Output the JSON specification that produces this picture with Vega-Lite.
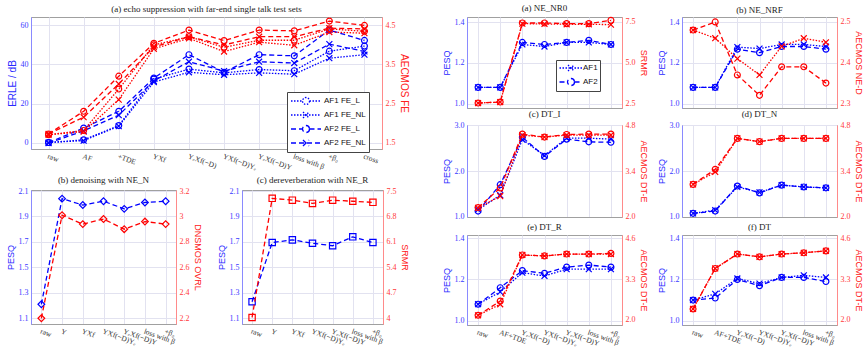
{
  "$schema": "https://vega.github.io/schema/vega-lite/v6.json",
  "padding": {"left": 5, "top": 3, "right": 0, "bottom": 0},
  "datasets": {
    "a": [
      {"s": "AF1 FE_L", "x": "raw", "erle": 0, "fe": 1.7},
      {"s": "AF1 FE_L", "x": "AF", "erle": 1.4, "fe": 1.81},
      {"s": "AF1 FE_L", "x": "+TDE", "erle": 8.7, "fe": 2.87},
      {"s": "AF1 FE_L", "x": "YXf", "erle": 32.5, "fe": 4.0},
      {"s": "AF1 FE_L", "x": "YₑXf(−D)", "erle": 37.6, "fe": 4.21},
      {"s": "AF1 FE_L", "x": "YXf(−D)Yₑ", "erle": 35.7, "fe": 3.94},
      {"s": "AF1 FE_L", "x": "YₑXf(−D)Y", "erle": 37.4, "fe": 4.12},
      {"s": "AF1 FE_L", "x": "loss with β", "erle": 36.8, "fe": 4.12},
      {"s": "AF1 FE_L", "x": "+β₀", "erle": 46.8, "fe": 4.41},
      {"s": "AF1 FE_L", "x": "cross", "erle": 49.4, "fe": 4.35},
      {"s": "AF1 FE_NL", "x": "raw", "erle": 0, "fe": 1.7},
      {"s": "AF1 FE_NL", "x": "AF", "erle": 1.0, "fe": 1.78},
      {"s": "AF1 FE_NL", "x": "+TDE", "erle": 8.4, "fe": 2.6},
      {"s": "AF1 FE_NL", "x": "YXf", "erle": 31, "fe": 3.9},
      {"s": "AF1 FE_NL", "x": "YₑXf(−D)", "erle": 36, "fe": 4.17},
      {"s": "AF1 FE_NL", "x": "YXf(−D)Yₑ", "erle": 34.7, "fe": 3.83},
      {"s": "AF1 FE_NL", "x": "YₑXf(−D)Y", "erle": 35.7, "fe": 4.07},
      {"s": "AF1 FE_NL", "x": "loss with β", "erle": 35, "fe": 3.99},
      {"s": "AF1 FE_NL", "x": "+β₀", "erle": 43.2, "fe": 4.33},
      {"s": "AF1 FE_NL", "x": "cross", "erle": 45, "fe": 4.3},
      {"s": "AF2 FE_L", "x": "raw", "erle": 0, "fe": 1.72},
      {"s": "AF2 FE_L", "x": "AF", "erle": 7.4, "fe": 2.3},
      {"s": "AF2 FE_L", "x": "+TDE", "erle": 16, "fe": 3.2},
      {"s": "AF2 FE_L", "x": "YXf", "erle": 33, "fe": 4.04},
      {"s": "AF2 FE_L", "x": "YₑXf(−D)", "erle": 45, "fe": 4.38},
      {"s": "AF2 FE_L", "x": "YXf(−D)Yₑ", "erle": 36, "fe": 4.11},
      {"s": "AF2 FE_L", "x": "YₑXf(−D)Y", "erle": 45, "fe": 4.38},
      {"s": "AF2 FE_L", "x": "loss with β", "erle": 44.4, "fe": 4.36},
      {"s": "AF2 FE_L", "x": "+β₀", "erle": 57.6, "fe": 4.61},
      {"s": "AF2 FE_L", "x": "cross", "erle": 52.3, "fe": 4.5},
      {"s": "AF2 FE_NL", "x": "raw", "erle": -0.3, "fe": 1.72},
      {"s": "AF2 FE_NL", "x": "AF", "erle": 6, "fe": 2.15},
      {"s": "AF2 FE_NL", "x": "+TDE", "erle": 14, "fe": 3.0},
      {"s": "AF2 FE_NL", "x": "YXf", "erle": 31.6, "fe": 3.95},
      {"s": "AF2 FE_NL", "x": "YₑXf(−D)", "erle": 41.4, "fe": 4.21},
      {"s": "AF2 FE_NL", "x": "YXf(−D)Yₑ", "erle": 36.6, "fe": 4.0},
      {"s": "AF2 FE_NL", "x": "YₑXf(−D)Y", "erle": 41.4, "fe": 4.21},
      {"s": "AF2 FE_NL", "x": "loss with β", "erle": 40.7, "fe": 4.21},
      {"s": "AF2 FE_NL", "x": "+β₀", "erle": 50.4, "fe": 4.43},
      {"s": "AF2 FE_NL", "x": "cross", "erle": 46.7, "fe": 4.41}
    ],
    "bc": [
      {"p": "b", "x": "raw", "pesq": 1.21, "m": 2.2},
      {"p": "b", "x": "Y", "pesq": 2.04, "m": 3.01},
      {"p": "b", "x": "YXf", "pesq": 1.99, "m": 2.94},
      {"p": "b", "x": "YXf(−D)Yₑ", "pesq": 2.02, "m": 2.98},
      {"p": "b", "x": "YₑXf(−D)Y", "pesq": 1.96, "m": 2.9},
      {"p": "b", "x": "loss with β", "pesq": 2.01, "m": 2.96},
      {"p": "b", "x": "+β₀", "pesq": 2.02, "m": 2.94},
      {"p": "c", "x": "raw", "pesq": 1.23, "m": 4.02},
      {"p": "c", "x": "Y", "pesq": 1.695, "m": 7.3},
      {"p": "c", "x": "YXf", "pesq": 1.716, "m": 7.25},
      {"p": "c", "x": "YXf(−D)Yₑ", "pesq": 1.69, "m": 7.16},
      {"p": "c", "x": "YₑXf(−D)Y", "pesq": 1.67, "m": 7.25},
      {"p": "c", "x": "loss with β", "pesq": 1.74, "m": 7.22},
      {"p": "c", "x": "+β₀", "pesq": 1.695, "m": 7.19}
    ],
    "r": [
      {"p": "NR0", "s": "AF1", "x": "raw", "pesq": 1.08, "m": 2.54},
      {"p": "NR0", "s": "AF1", "x": "AF+TDE", "pesq": 1.08, "m": 2.6},
      {"p": "NR0", "s": "AF1", "x": "YₑXf(−D)", "pesq": 1.29, "m": 7.4},
      {"p": "NR0", "s": "AF1", "x": "YXf(−D)Yₑ", "pesq": 1.28, "m": 7.38},
      {"p": "NR0", "s": "AF1", "x": "YₑXf(−D)Y", "pesq": 1.3, "m": 7.36},
      {"p": "NR0", "s": "AF1", "x": "loss with β", "pesq": 1.3, "m": 7.36},
      {"p": "NR0", "s": "AF1", "x": "+β₀", "pesq": 1.29, "m": 7.34},
      {"p": "NR0", "s": "AF2", "x": "raw", "pesq": 1.08, "m": 2.54},
      {"p": "NR0", "s": "AF2", "x": "AF+TDE", "pesq": 1.08, "m": 2.6},
      {"p": "NR0", "s": "AF2", "x": "YₑXf(−D)", "pesq": 1.3, "m": 7.44},
      {"p": "NR0", "s": "AF2", "x": "YXf(−D)Yₑ", "pesq": 1.29, "m": 7.44},
      {"p": "NR0", "s": "AF2", "x": "YₑXf(−D)Y", "pesq": 1.3, "m": 7.4},
      {"p": "NR0", "s": "AF2", "x": "loss with β", "pesq": 1.31, "m": 7.4},
      {"p": "NR0", "s": "AF2", "x": "+β₀", "pesq": 1.29, "m": 7.6},
      {"p": "NRF", "s": "AF1", "x": "raw", "pesq": 1.08, "m": 2.48},
      {"p": "NRF", "s": "AF1", "x": "AF+TDE", "pesq": 1.08, "m": 2.46},
      {"p": "NRF", "s": "AF1", "x": "YₑXf(−D)", "pesq": 1.277, "m": 2.41},
      {"p": "NRF", "s": "AF1", "x": "YXf(−D)Yₑ", "pesq": 1.27, "m": 2.37},
      {"p": "NRF", "s": "AF1", "x": "YₑXf(−D)Y", "pesq": 1.29, "m": 2.44},
      {"p": "NRF", "s": "AF1", "x": "loss with β", "pesq": 1.29, "m": 2.46},
      {"p": "NRF", "s": "AF1", "x": "+β₀", "pesq": 1.28, "m": 2.45},
      {"p": "NRF", "s": "AF2", "x": "raw", "pesq": 1.08, "m": 2.48},
      {"p": "NRF", "s": "AF2", "x": "AF+TDE", "pesq": 1.08, "m": 2.5},
      {"p": "NRF", "s": "AF2", "x": "YₑXf(−D)", "pesq": 1.267, "m": 2.37},
      {"p": "NRF", "s": "AF2", "x": "YXf(−D)Yₑ", "pesq": 1.25, "m": 2.32},
      {"p": "NRF", "s": "AF2", "x": "YₑXf(−D)Y", "pesq": 1.28, "m": 2.39},
      {"p": "NRF", "s": "AF2", "x": "loss with β", "pesq": 1.28, "m": 2.39},
      {"p": "NRF", "s": "AF2", "x": "+β₀", "pesq": 1.267, "m": 2.35},
      {"p": "DTI", "s": "AF1", "x": "raw", "pesq": 1.15, "m": 2.27},
      {"p": "DTI", "s": "AF1", "x": "AF+TDE", "pesq": 1.47, "m": 2.63},
      {"p": "DTI", "s": "AF1", "x": "YₑXf(−D)", "pesq": 2.69, "m": 4.5},
      {"p": "DTI", "s": "AF1", "x": "YXf(−D)Yₑ", "pesq": 2.34, "m": 4.44},
      {"p": "DTI", "s": "AF1", "x": "YₑXf(−D)Y", "pesq": 2.72, "m": 4.5},
      {"p": "DTI", "s": "AF1", "x": "loss with β", "pesq": 2.72, "m": 4.5},
      {"p": "DTI", "s": "AF1", "x": "+β₀", "pesq": 2.7, "m": 4.5},
      {"p": "DTI", "s": "AF2", "x": "raw", "pesq": 1.12, "m": 2.28},
      {"p": "DTI", "s": "AF2", "x": "AF+TDE", "pesq": 1.7, "m": 2.88},
      {"p": "DTI", "s": "AF2", "x": "YₑXf(−D)", "pesq": 2.74, "m": 4.53},
      {"p": "DTI", "s": "AF2", "x": "YXf(−D)Yₑ", "pesq": 2.32, "m": 4.44},
      {"p": "DTI", "s": "AF2", "x": "YₑXf(−D)Y", "pesq": 2.7, "m": 4.52},
      {"p": "DTI", "s": "AF2", "x": "loss with β", "pesq": 2.64, "m": 4.53},
      {"p": "DTI", "s": "AF2", "x": "+β₀", "pesq": 2.63, "m": 4.53},
      {"p": "DTN", "s": "AF1", "x": "raw", "pesq": 1.07, "m": 2.99},
      {"p": "DTN", "s": "AF1", "x": "AF+TDE", "pesq": 1.14, "m": 3.37},
      {"p": "DTN", "s": "AF1", "x": "YₑXf(−D)", "pesq": 1.65, "m": 4.4},
      {"p": "DTN", "s": "AF1", "x": "YXf(−D)Yₑ", "pesq": 1.53, "m": 4.3},
      {"p": "DTN", "s": "AF1", "x": "YₑXf(−D)Y", "pesq": 1.69, "m": 4.4},
      {"p": "DTN", "s": "AF1", "x": "loss with β", "pesq": 1.65, "m": 4.4},
      {"p": "DTN", "s": "AF1", "x": "+β₀", "pesq": 1.63, "m": 4.4},
      {"p": "DTN", "s": "AF2", "x": "raw", "pesq": 1.07, "m": 2.99},
      {"p": "DTN", "s": "AF2", "x": "AF+TDE", "pesq": 1.12, "m": 3.45},
      {"p": "DTN", "s": "AF2", "x": "YₑXf(−D)", "pesq": 1.67, "m": 4.4},
      {"p": "DTN", "s": "AF2", "x": "YXf(−D)Yₑ", "pesq": 1.52, "m": 4.3},
      {"p": "DTN", "s": "AF2", "x": "YₑXf(−D)Y", "pesq": 1.69, "m": 4.4},
      {"p": "DTN", "s": "AF2", "x": "loss with β", "pesq": 1.65, "m": 4.4},
      {"p": "DTN", "s": "AF2", "x": "+β₀", "pesq": 1.63, "m": 4.4},
      {"p": "DTR", "s": "AF1", "x": "raw", "pesq": 1.08, "m": 2.15},
      {"p": "DTR", "s": "AF1", "x": "AF+TDE", "pesq": 1.14, "m": 2.5},
      {"p": "DTR", "s": "AF1", "x": "YₑXf(−D)", "pesq": 1.233, "m": 4.07},
      {"p": "DTR", "s": "AF1", "x": "YXf(−D)Yₑ", "pesq": 1.217, "m": 4.04},
      {"p": "DTR", "s": "AF1", "x": "YₑXf(−D)Y", "pesq": 1.25, "m": 4.1},
      {"p": "DTR", "s": "AF1", "x": "loss with β", "pesq": 1.25, "m": 4.1},
      {"p": "DTR", "s": "AF1", "x": "+β₀", "pesq": 1.25, "m": 4.1},
      {"p": "DTR", "s": "AF2", "x": "raw", "pesq": 1.08, "m": 2.15},
      {"p": "DTR", "s": "AF2", "x": "AF+TDE", "pesq": 1.16, "m": 2.6},
      {"p": "DTR", "s": "AF2", "x": "YₑXf(−D)", "pesq": 1.243, "m": 4.07},
      {"p": "DTR", "s": "AF2", "x": "YXf(−D)Yₑ", "pesq": 1.23, "m": 4.04},
      {"p": "DTR", "s": "AF2", "x": "YₑXf(−D)Y", "pesq": 1.26, "m": 4.1},
      {"p": "DTR", "s": "AF2", "x": "loss with β", "pesq": 1.27, "m": 4.1},
      {"p": "DTR", "s": "AF2", "x": "+β₀", "pesq": 1.26, "m": 4.12},
      {"p": "DT", "s": "AF1", "x": "raw", "pesq": 1.1, "m": 2.35},
      {"p": "DT", "s": "AF1", "x": "AF+TDE", "pesq": 1.13, "m": 3.64},
      {"p": "DT", "s": "AF1", "x": "YₑXf(−D)", "pesq": 1.205, "m": 4.1},
      {"p": "DT", "s": "AF1", "x": "YXf(−D)Yₑ", "pesq": 1.18, "m": 4.01},
      {"p": "DT", "s": "AF1", "x": "YₑXf(−D)Y", "pesq": 1.21, "m": 4.1},
      {"p": "DT", "s": "AF1", "x": "loss with β", "pesq": 1.22, "m": 4.14},
      {"p": "DT", "s": "AF1", "x": "+β₀", "pesq": 1.21, "m": 4.2},
      {"p": "DT", "s": "AF2", "x": "raw", "pesq": 1.1, "m": 2.35},
      {"p": "DT", "s": "AF2", "x": "AF+TDE", "pesq": 1.11, "m": 3.64},
      {"p": "DT", "s": "AF2", "x": "YₑXf(−D)", "pesq": 1.2, "m": 4.1},
      {"p": "DT", "s": "AF2", "x": "YXf(−D)Yₑ", "pesq": 1.17, "m": 4.01},
      {"p": "DT", "s": "AF2", "x": "YₑXf(−D)Y", "pesq": 1.21, "m": 4.1},
      {"p": "DT", "s": "AF2", "x": "loss with β", "pesq": 1.21, "m": 4.14},
      {"p": "DT", "s": "AF2", "x": "+β₀", "pesq": 1.19, "m": 4.2}
    ]
  },
  "spacing": 32,
  "resolve": {"scale": {"strokeDash": "independent", "shape": "independent"}, "legend": {"strokeDash": "independent", "shape": "independent"}},
  "hconcat": [
    {
      "spacing": 3,
      "resolve": {"scale": {"strokeDash": "independent", "shape": "independent"}, "legend": {"strokeDash": "independent", "shape": "independent"}},
      "vconcat": [
        {
          "title": "(a) echo suppression with far-end single talk test sets",
          "width": 351, "height": 132,
          "data": {"name": "a"},
          "encoding": {"x": {"field": "x", "type": "ordinal", "sort": null,
            "scale": {"type": "point", "padding": 0.5, "domain": ["raw", "AF", "+TDE", "YXf", "YₑXf(−D)", "YXf(−D)Yₑ", "YₑXf(−D)Y", "loss with β", "+β₀", "cross"]},
            "axis": {"title": null, "grid": true, "labelAngle": 20, "labelAlign": "left", "labelBaseline": "top", "labelOverlap": false, "labelFontSize": 7.5, "labelDx": -3}}},
          "layer": [
            {
              "encoding": {"y": {"field": "erle", "type": "quantitative", "scale": {"domain": [-3.3, 64.3], "nice": false, "zero": false},
                "axis": {"orient": "left", "title": "ERLE / dB", "values": [0, 20, 40, 60], "titleFontSize": 10, "grid": true}}},
              "layer": [
                {"mark": {"type": "line", "color": "#0000ff", "strokeWidth": 1.3},
                 "encoding": {"strokeDash": {"field": "s", "type": "nominal",
                   "scale": {"domain": ["AF1 FE_L", "AF1 FE_NL", "AF2 FE_L", "AF2 FE_NL"], "range": [[1.5, 1.5], [1.5, 1.5], [5, 3], [5, 3]]},
                   "legend": {"title": null, "orient": "none", "legendX": 256, "legendY": 75, "symbolSize": 100, "symbolOffset": 10, "labelOffset": 12,
                     "symbolStrokeColor": "#0000ff", "symbolStrokeWidth": 1.3, "labelFont": "Liberation Sans", "labelFontSize": 8, "labelColor": "#111",
                     "strokeColor": "#444", "fillColor": "white", "padding": 3, "rowPadding": 1,
                     "encode": {"symbols": {"update": {"fill": {"value": "transparent"}, "stroke": {"value": "#0000ff"},
                       "shape": {"signal": "indexof(datum.value, 'FE_L') >= 0 ? 'M-3,0L-0.7,0M0.7,0L3,0M0.7,0A0.7,0.7 0 1,1 -0.7,0A0.7,0.7 0 1,1 0.7,0' : 'M-3,0L3,0M-0.6,-0.6L0.6,0.6M-0.6,0.6L0.6,-0.6'"}}}}}}}},
                {"transform": [{"filter": "indexof(datum.s, 'FE_L') >= 0"}],
                 "mark": {"type": "point", "shape": "circle", "color": "#0000ff", "filled": false, "size": 35, "strokeWidth": 1.2, "opacity": 1}, "encoding": {}},
                {"transform": [{"filter": "indexof(datum.s, 'FE_NL') >= 0"}],
                 "mark": {"type": "point", "shape": "M-1,-1L1,1M-1,1L1,-1", "color": "#0000ff", "filled": false, "size": 35, "strokeWidth": 1.2, "opacity": 1}, "encoding": {}}
              ]
            },
            {
              "encoding": {"y": {"field": "fe", "type": "quantitative", "scale": {"domain": [1.335, 4.715], "nice": false, "zero": false},
                "axis": {"orient": "right", "title": "AECMOS FE", "values": [1.5, 2.5, 3.5, 4.5], "format": ".1f", "titleFontSize": 10, "grid": false}}},
              "layer": [
                {"mark": {"type": "line", "color": "#ff0000", "strokeWidth": 1.3},
                 "encoding": {"strokeDash": {"field": "s", "type": "nominal", "legend": null}}},
                {"transform": [{"filter": "indexof(datum.s, 'FE_L') >= 0"}],
                 "mark": {"type": "point", "shape": "circle", "color": "#ff0000", "filled": false, "size": 35, "strokeWidth": 1.2, "opacity": 1}, "encoding": {}},
                {"transform": [{"filter": "indexof(datum.s, 'FE_NL') >= 0"}],
                 "mark": {"type": "point", "shape": "M-1,-1L1,1M-1,1L1,-1", "color": "#ff0000", "filled": false, "size": 35, "strokeWidth": 1.2, "opacity": 1}, "encoding": {}}
              ]
            }
          ],
          "resolve": {"scale": {"y": "independent"}}
        },
        {
          "spacing": 14,
          "resolve": {"scale": {"strokeDash": "independent", "shape": "independent"}},
          "hconcat": [
            {
              "title": "(b) denoising with NE_N",
              "width": 145, "height": 134,
              "data": {"name": "bc"},
              "transform": [{"filter": "datum.p === 'b'"}],
              "encoding": {"x": {"field": "x", "type": "ordinal", "sort": null,
                "scale": {"type": "point", "padding": 0.5, "domain": ["raw", "Y", "YXf", "YXf(−D)Yₑ", "YₑXf(−D)Y", "loss with β", "+β₀"]},
                "axis": {"title": null, "grid": true, "labelAngle": 20, "labelAlign": "left", "labelBaseline": "top", "labelOverlap": false, "labelFontSize": 7.5, "labelDx": -3}}},
              "layer": [
                {
                  "encoding": {"y": {"field": "pesq", "type": "quantitative", "scale": {"domain": [1.055, 2.108], "nice": false, "zero": false},
                    "axis": {"orient": "left", "title": "PESQ", "values": [1.1, 1.3, 1.5, 1.7, 1.9, 2.1], "format": ".1f", "grid": true}}},
                  "layer": [
                    {"mark": {"type": "line", "color": "#0000ff", "strokeWidth": 1.3, "strokeDash": [5, 3]}, "encoding": {}},
                    {"mark": {"type": "point", "shape": "diamond", "color": "#0000ff", "filled": false, "size": 45, "strokeWidth": 1.2, "opacity": 1}, "encoding": {}}
                  ]
                },
                {
                  "encoding": {"y": {"field": "m", "type": "quantitative", "scale": {"domain": [2.155, 3.208], "nice": false, "zero": false},
                    "axis": {"orient": "right", "title": "DNSMOS OVRL", "values": [2.2, 2.4, 2.6, 2.8, 3.0, 3.2], "format": "~g", "grid": false}}},
                  "layer": [
                    {"mark": {"type": "line", "color": "#ff0000", "strokeWidth": 1.3, "strokeDash": [5, 3]}, "encoding": {}},
                    {"mark": {"type": "point", "shape": "diamond", "color": "#ff0000", "filled": false, "size": 45, "strokeWidth": 1.2, "opacity": 1}, "encoding": {}}
                  ]
                }
              ],
              "resolve": {"scale": {"y": "independent"}}
            },
            {
              "title": "(c) dereverberation with NE_R",
              "width": 141, "height": 134,
              "data": {"name": "bc"},
              "transform": [{"filter": "datum.p === 'c'"}],
              "encoding": {"x": {"field": "x", "type": "ordinal", "sort": null,
                "scale": {"type": "point", "padding": 0.5, "domain": ["raw", "Y", "YXf", "YXf(−D)Yₑ", "YₑXf(−D)Y", "loss with β", "+β₀"]},
                "axis": {"title": null, "grid": true, "labelAngle": 20, "labelAlign": "left", "labelBaseline": "top", "labelOverlap": false, "labelFontSize": 7.5, "labelDx": -3}}},
              "layer": [
                {
                  "encoding": {"y": {"field": "pesq", "type": "quantitative", "scale": {"domain": [1.055, 2.108], "nice": false, "zero": false},
                    "axis": {"orient": "left", "title": "PESQ", "values": [1.1, 1.3, 1.5, 1.7, 1.9, 2.1], "format": ".1f", "grid": true}}},
                  "layer": [
                    {"mark": {"type": "line", "color": "#0000ff", "strokeWidth": 1.3, "strokeDash": [5, 3]}, "encoding": {}},
                    {"mark": {"type": "point", "shape": "square", "color": "#0000ff", "filled": false, "size": 40, "strokeWidth": 1.2, "opacity": 1}, "encoding": {}}
                  ]
                },
                {
                  "encoding": {"y": {"field": "m", "type": "quantitative", "scale": {"domain": [3.84, 7.53], "nice": false, "zero": false},
                    "axis": {"orient": "right", "title": "SRMR", "values": [4, 4.7, 5.4, 6.1, 6.8, 7.5], "format": "~g", "grid": false}}},
                  "layer": [
                    {"mark": {"type": "line", "color": "#ff0000", "strokeWidth": 1.3, "strokeDash": [5, 3]}, "encoding": {}},
                    {"mark": {"type": "point", "shape": "square", "color": "#ff0000", "filled": false, "size": 40, "strokeWidth": 1.2, "opacity": 1}, "encoding": {}}
                  ]
                }
              ],
              "resolve": {"scale": {"y": "independent"}}
            }
          ]
        }
      ]
    },
    {
      "spacing": 0,
      "resolve": {"scale": {"strokeDash": "independent", "shape": "independent"}, "legend": {"strokeDash": "independent", "shape": "independent"}},
      "vconcat": [
        {
          "spacing": 8,
          "resolve": {"scale": {"strokeDash": "independent", "shape": "independent"}, "legend": {"strokeDash": "independent", "shape": "independent"}},
          "hconcat": [
            {
              "title": "(a) NE_NR0", "width": 155, "height": 91,
              "data": {"name": "r"}, "transform": [{"filter": "datum.p === 'NR0'"}],
              "encoding": {"x": {"field": "x", "type": "ordinal", "sort": null, "scale": {"type": "point", "padding": 0.5, "domain": ["raw", "AF+TDE", "YₑXf(−D)", "YXf(−D)Yₑ", "YₑXf(−D)Y", "loss with β", "+β₀"]}, "axis": {"title": null, "grid": true, "labels": false}}},
              "layer": [
                {"encoding": {"y": {"field": "pesq", "type": "quantitative", "scale": {"domain": [0.979, 1.4245], "nice": false, "zero": false}, "axis": {"orient": "left", "title": "PESQ", "values": [1.0, 1.2, 1.4], "format": ".1f", "grid": true}}},
                 "layer": [
                   {"mark": {"type": "line", "color": "#0000ff", "strokeWidth": 1.3},
                    "encoding": {"strokeDash": {"field": "s", "type": "nominal", "scale": {"domain": ["AF1", "AF2"], "range": [[1.5, 1.5], [5, 3]]},
                      "legend": {"title": null, "orient": "none", "legendX": 89, "legendY": 43, "symbolSize": 100, "symbolOffset": 7, "labelOffset": 6,
                        "symbolStrokeColor": "#0000ff", "symbolStrokeWidth": 1.3, "labelFont": "Liberation Sans", "labelFontSize": 8, "labelColor": "#111",
                        "strokeColor": "#444", "fillColor": "white", "padding": 2, "rowPadding": 1,
                        "encode": {"symbols": {"update": {"fill": {"value": "transparent"}, "stroke": {"value": "#0000ff"},
                          "shape": {"signal": "indexof(datum.value, 'AF2') >= 0 ? 'M-2.3,0L-0.7,0M0.7,0L2.3,0M0.7,0A0.7,0.7 0 1,1 -0.7,0A0.7,0.7 0 1,1 0.7,0' : 'M-2.3,0L2.3,0M-0.6,-0.6L0.6,0.6M-0.6,0.6L0.6,-0.6'"}}}}}}}},
                   {"transform": [{"filter": "datum.s === 'AF2'"}],
                    "mark": {"type": "point", "shape": "circle", "color": "#0000ff", "filled": false, "size": 35, "strokeWidth": 1.2, "opacity": 1}, "encoding": {}},
                   {"transform": [{"filter": "datum.s === 'AF1'"}],
                    "mark": {"type": "point", "shape": "M-1,-1L1,1M-1,1L1,-1", "color": "#0000ff", "filled": false, "size": 35, "strokeWidth": 1.2, "opacity": 1}, "encoding": {}}
                 ]},
                {"encoding": {"y": {"field": "m", "type": "quantitative", "scale": {"domain": [2.235, 7.806], "nice": false, "zero": false}, "axis": {"orient": "right", "title": "SRMR", "values": [2.5, 5, 7.5], "format": ".1f", "grid": false}}},
                 "layer": [
                   {"mark": {"type": "line", "color": "#ff0000", "strokeWidth": 1.3}, "encoding": {"strokeDash": {"field": "s", "type": "nominal", "legend": null}}},
                   {"transform": [{"filter": "datum.s === 'AF2'"}],
                    "mark": {"type": "point", "shape": "circle", "color": "#ff0000", "filled": false, "size": 35, "strokeWidth": 1.2, "opacity": 1}, "encoding": {}},
                   {"transform": [{"filter": "datum.s === 'AF1'"}],
                    "mark": {"type": "point", "shape": "M-1,-1L1,1M-1,1L1,-1", "color": "#ff0000", "filled": false, "size": 35, "strokeWidth": 1.2, "opacity": 1}, "encoding": {}}
                 ]}
              ],
              "resolve": {"scale": {"y": "independent"}}
            },
            {
              "title": "(b) NE_NRF", "width": 155, "height": 91,
              "data": {"name": "r"}, "transform": [{"filter": "datum.p === 'NRF'"}],
              "encoding": {"x": {"field": "x", "type": "ordinal", "sort": null, "scale": {"type": "point", "padding": 0.5, "domain": ["raw", "AF+TDE", "YₑXf(−D)", "YXf(−D)Yₑ", "YₑXf(−D)Y", "loss with β", "+β₀"]}, "axis": {"title": null, "grid": true, "labels": false}}},
              "layer": [
                {"encoding": {"y": {"field": "pesq", "type": "quantitative", "scale": {"domain": [0.979, 1.4245], "nice": false, "zero": false}, "axis": {"orient": "left", "title": "PESQ", "values": [1.0, 1.2, 1.4], "format": ".1f", "grid": true}}},
                 "layer": [
                   {"mark": {"type": "line", "color": "#0000ff", "strokeWidth": 1.3}, "encoding": {"strokeDash": {"field": "s", "type": "nominal", "scale": {"domain": ["AF1", "AF2"], "range": [[1.5, 1.5], [5, 3]]}, "legend": null}}},
                   {"mark": {"type": "point", "color": "#0000ff", "filled": false, "size": 35, "strokeWidth": 1.2, "opacity": 1}, "encoding": {"shape": {"field": "s", "type": "nominal", "scale": {"domain": ["AF1", "AF2"], "range": ["M-1,-1L1,1M-1,1L1,-1", "circle"]}, "legend": null}}}
                 ]},
                {"encoding": {"y": {"field": "m", "type": "quantitative", "scale": {"domain": [2.289, 2.512], "nice": false, "zero": false}, "axis": {"orient": "right", "title": "AECMOS NE-D", "values": [2.3, 2.4, 2.5], "format": ".1f", "grid": false}}},
                 "layer": [
                   {"mark": {"type": "line", "color": "#ff0000", "strokeWidth": 1.3}, "encoding": {"strokeDash": {"field": "s", "type": "nominal", "legend": null}}},
                   {"mark": {"type": "point", "color": "#ff0000", "filled": false, "size": 35, "strokeWidth": 1.2, "opacity": 1}, "encoding": {"shape": {"field": "s", "type": "nominal", "legend": null}}}
                 ]}
              ],
              "resolve": {"scale": {"y": "independent"}}
            }
          ]
        },
        {
          "spacing": 8,
          "resolve": {"scale": {"strokeDash": "independent", "shape": "independent"}},
          "hconcat": [
            {
              "title": "(c) DT_I", "width": 155, "height": 92,
              "data": {"name": "r"}, "transform": [{"filter": "datum.p === 'DTI'"}],
              "encoding": {"x": {"field": "x", "type": "ordinal", "sort": null, "scale": {"type": "point", "padding": 0.5, "domain": ["raw", "AF+TDE", "YₑXf(−D)", "YXf(−D)Yₑ", "YₑXf(−D)Y", "loss with β", "+β₀"]}, "axis": {"title": null, "grid": true, "labels": false}}},
              "layer": [
                {"encoding": {"y": {"field": "pesq", "type": "quantitative", "scale": {"domain": [0.99, 3.01], "nice": false, "zero": false}, "axis": {"orient": "left", "title": "PESQ", "values": [1.0, 2.0, 3.0], "format": ".1f", "grid": true}}},
                 "layer": [
                   {"mark": {"type": "line", "color": "#0000ff", "strokeWidth": 1.3}, "encoding": {"strokeDash": {"field": "s", "type": "nominal", "scale": {"domain": ["AF1", "AF2"], "range": [[1.5, 1.5], [5, 3]]}, "legend": null}}},
                   {"mark": {"type": "point", "color": "#0000ff", "filled": false, "size": 35, "strokeWidth": 1.2, "opacity": 1}, "encoding": {"shape": {"field": "s", "type": "nominal", "scale": {"domain": ["AF1", "AF2"], "range": ["M-1,-1L1,1M-1,1L1,-1", "circle"]}, "legend": null}}}
                 ]},
                {"encoding": {"y": {"field": "m", "type": "quantitative", "scale": {"domain": [1.99, 4.81], "nice": false, "zero": false}, "axis": {"orient": "right", "title": "AECMOS DT-E", "values": [2.0, 3.4, 4.8], "format": ".1f", "grid": false}}},
                 "layer": [
                   {"mark": {"type": "line", "color": "#ff0000", "strokeWidth": 1.3}, "encoding": {"strokeDash": {"field": "s", "type": "nominal", "legend": null}}},
                   {"mark": {"type": "point", "color": "#ff0000", "filled": false, "size": 35, "strokeWidth": 1.2, "opacity": 1}, "encoding": {"shape": {"field": "s", "type": "nominal", "legend": null}}}
                 ]}
              ],
              "resolve": {"scale": {"y": "independent"}}
            },
            {
              "title": "(d) DT_N", "width": 155, "height": 92,
              "data": {"name": "r"}, "transform": [{"filter": "datum.p === 'DTN'"}],
              "encoding": {"x": {"field": "x", "type": "ordinal", "sort": null, "scale": {"type": "point", "padding": 0.5, "domain": ["raw", "AF+TDE", "YₑXf(−D)", "YXf(−D)Yₑ", "YₑXf(−D)Y", "loss with β", "+β₀"]}, "axis": {"title": null, "grid": true, "labels": false}}},
              "layer": [
                {"encoding": {"y": {"field": "pesq", "type": "quantitative", "scale": {"domain": [0.99, 3.01], "nice": false, "zero": false}, "axis": {"orient": "left", "title": "PESQ", "values": [1.0, 2.0, 3.0], "format": ".1f", "grid": true}}},
                 "layer": [
                   {"mark": {"type": "line", "color": "#0000ff", "strokeWidth": 1.3}, "encoding": {"strokeDash": {"field": "s", "type": "nominal", "scale": {"domain": ["AF1", "AF2"], "range": [[1.5, 1.5], [5, 3]]}, "legend": null}}},
                   {"mark": {"type": "point", "color": "#0000ff", "filled": false, "size": 35, "strokeWidth": 1.2, "opacity": 1}, "encoding": {"shape": {"field": "s", "type": "nominal", "scale": {"domain": ["AF1", "AF2"], "range": ["M-1,-1L1,1M-1,1L1,-1", "circle"]}, "legend": null}}}
                 ]},
                {"encoding": {"y": {"field": "m", "type": "quantitative", "scale": {"domain": [1.99, 4.81], "nice": false, "zero": false}, "axis": {"orient": "right", "title": "AECMOS DT-E", "values": [2.0, 3.4, 4.8], "format": ".1f", "grid": false}}},
                 "layer": [
                   {"mark": {"type": "line", "color": "#ff0000", "strokeWidth": 1.3}, "encoding": {"strokeDash": {"field": "s", "type": "nominal", "legend": null}}},
                   {"mark": {"type": "point", "color": "#ff0000", "filled": false, "size": 35, "strokeWidth": 1.2, "opacity": 1}, "encoding": {"shape": {"field": "s", "type": "nominal", "legend": null}}}
                 ]}
              ],
              "resolve": {"scale": {"y": "independent"}}
            }
          ]
        },
        {
          "spacing": 8,
          "resolve": {"scale": {"strokeDash": "independent", "shape": "independent"}},
          "hconcat": [
            {
              "title": "(e) DT_R", "width": 155, "height": 90,
              "data": {"name": "r"}, "transform": [{"filter": "datum.p === 'DTR'"}],
              "encoding": {"x": {"field": "x", "type": "ordinal", "sort": null, "scale": {"type": "point", "padding": 0.5, "domain": ["raw", "AF+TDE", "YₑXf(−D)", "YXf(−D)Yₑ", "YₑXf(−D)Y", "loss with β", "+β₀"]}, "axis": {"title": null, "grid": true, "labelAngle": 20, "labelAlign": "left", "labelBaseline": "top", "labelOverlap": false, "labelFontSize": 7.5, "labelDx": -3}}},
              "layer": [
                {"encoding": {"y": {"field": "pesq", "type": "quantitative", "scale": {"domain": [0.979, 1.416], "nice": false, "zero": false}, "axis": {"orient": "left", "title": "PESQ", "values": [1.0, 1.2, 1.4], "format": ".1f", "grid": true}}},
                 "layer": [
                   {"mark": {"type": "line", "color": "#0000ff", "strokeWidth": 1.3}, "encoding": {"strokeDash": {"field": "s", "type": "nominal", "scale": {"domain": ["AF1", "AF2"], "range": [[1.5, 1.5], [5, 3]]}, "legend": null}}},
                   {"mark": {"type": "point", "color": "#0000ff", "filled": false, "size": 35, "strokeWidth": 1.2, "opacity": 1}, "encoding": {"shape": {"field": "s", "type": "nominal", "scale": {"domain": ["AF1", "AF2"], "range": ["M-1,-1L1,1M-1,1L1,-1", "circle"]}, "legend": null}}}
                 ]},
                {"encoding": {"y": {"field": "m", "type": "quantitative", "scale": {"domain": [1.84, 4.706], "nice": false, "zero": false}, "axis": {"orient": "right", "title": "AECMOS DT-E", "values": [2.0, 3.3, 4.6], "format": ".1f", "grid": false}}},
                 "layer": [
                   {"mark": {"type": "line", "color": "#ff0000", "strokeWidth": 1.3}, "encoding": {"strokeDash": {"field": "s", "type": "nominal", "legend": null}}},
                   {"mark": {"type": "point", "color": "#ff0000", "filled": false, "size": 35, "strokeWidth": 1.2, "opacity": 1}, "encoding": {"shape": {"field": "s", "type": "nominal", "legend": null}}}
                 ]}
              ],
              "resolve": {"scale": {"y": "independent"}}
            },
            {
              "title": "(f) DT", "width": 155, "height": 90,
              "data": {"name": "r"}, "transform": [{"filter": "datum.p === 'DT'"}],
              "encoding": {"x": {"field": "x", "type": "ordinal", "sort": null, "scale": {"type": "point", "padding": 0.5, "domain": ["raw", "AF+TDE", "YₑXf(−D)", "YXf(−D)Yₑ", "YₑXf(−D)Y", "loss with β", "+β₀"]}, "axis": {"title": null, "grid": true, "labelAngle": 20, "labelAlign": "left", "labelBaseline": "top", "labelOverlap": false, "labelFontSize": 7.5, "labelDx": -3}}},
              "layer": [
                {"encoding": {"y": {"field": "pesq", "type": "quantitative", "scale": {"domain": [0.979, 1.416], "nice": false, "zero": false}, "axis": {"orient": "left", "title": "PESQ", "values": [1.0, 1.2, 1.4], "format": ".1f", "grid": true}}},
                 "layer": [
                   {"mark": {"type": "line", "color": "#0000ff", "strokeWidth": 1.3}, "encoding": {"strokeDash": {"field": "s", "type": "nominal", "scale": {"domain": ["AF1", "AF2"], "range": [[1.5, 1.5], [5, 3]]}, "legend": null}}},
                   {"mark": {"type": "point", "color": "#0000ff", "filled": false, "size": 35, "strokeWidth": 1.2, "opacity": 1}, "encoding": {"shape": {"field": "s", "type": "nominal", "scale": {"domain": ["AF1", "AF2"], "range": ["M-1,-1L1,1M-1,1L1,-1", "circle"]}, "legend": null}}}
                 ]},
                {"encoding": {"y": {"field": "m", "type": "quantitative", "scale": {"domain": [1.84, 4.706], "nice": false, "zero": false}, "axis": {"orient": "right", "title": "AECMOS DT-E", "values": [2.0, 3.3, 4.6], "format": ".1f", "grid": false}}},
                 "layer": [
                   {"mark": {"type": "line", "color": "#ff0000", "strokeWidth": 1.3}, "encoding": {"strokeDash": {"field": "s", "type": "nominal", "legend": null}}},
                   {"mark": {"type": "point", "color": "#ff0000", "filled": false, "size": 35, "strokeWidth": 1.2, "opacity": 1}, "encoding": {"shape": {"field": "s", "type": "nominal", "legend": null}}}
                 ]}
              ],
              "resolve": {"scale": {"y": "independent"}}
            }
          ]
        }
      ]
    }
  ],
  "config": {
    "font": "Liberation Sans",
    "view": {"stroke": "#a0a0a0", "strokeWidth": 1},
    "title": {"font": "Liberation Serif", "fontSize": 9, "fontWeight": "normal", "color": "#222", "offset": 2},
    "axis": {"labelFont": "Liberation Serif", "labelFontSize": 8, "titleFont": "Liberation Sans", "titleFontSize": 9, "titleFontWeight": "normal", "ticks": false, "labelPadding": 3, "titlePadding": 3, "gridColor": "#e2e2f0", "domainWidth": 1},
    "axisLeft": {"labelColor": "#3a3aff", "titleColor": "#2a2aff", "domainColor": "#8a8aff"},
    "axisRight": {"labelColor": "#ff3a3a", "titleColor": "#ff2020", "domainColor": "#ff8a8a"},
    "axisBottom": {"labelColor": "#333", "domainColor": "#a0a0a0"}
  }
}
